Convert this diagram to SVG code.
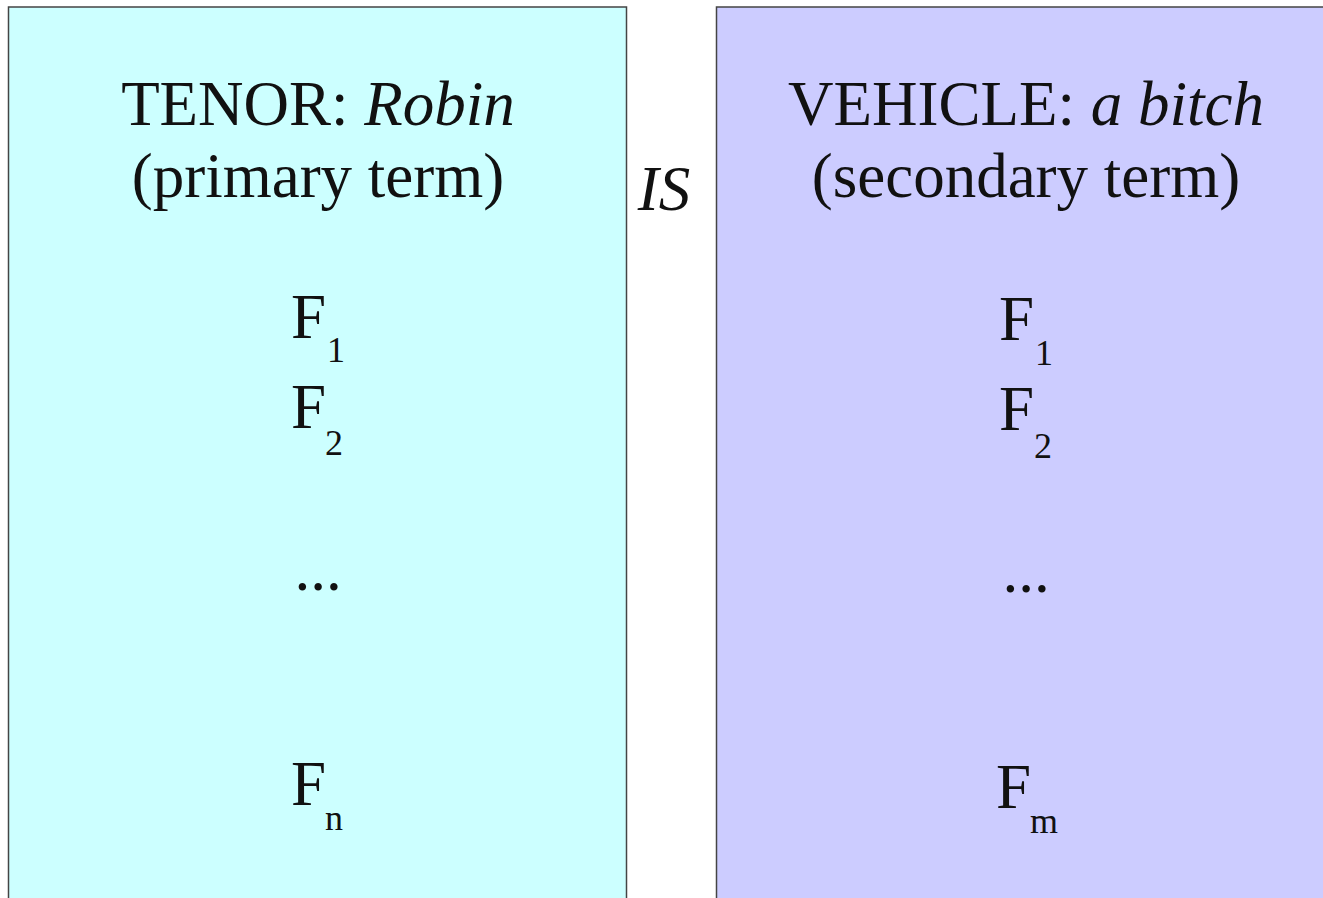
<svg xmlns="http://www.w3.org/2000/svg" width="1323" height="898" viewBox="0 0 1323 898">
<style>
text{font-family:"Liberation Serif","Times New Roman",serif;fill:#111}
.big{font-size:63px}
.sub{font-size:36px}
.it{font-style:italic}
.box{stroke:#444;stroke-width:1.5}
</style>
<rect width="1323" height="898" fill="#fff"/>
<g id="tenor">
<rect class="box" x="8.5" y="7" width="618" height="895" fill="#CCFFFF"/>
<text class="big" x="318" y="125" text-anchor="middle">TENOR: <tspan class="it">Robin</tspan></text>
<text class="big" x="318" y="197" text-anchor="middle">(primary term)</text>
<text class="big" x="291" y="338">F</text><text class="sub" x="327" y="362">1</text>
<text class="big" x="291" y="428">F</text><text class="sub" x="325" y="455">2</text>
<text class="big" x="318" y="590" text-anchor="middle">...</text>
<text class="big" x="291" y="805">F</text><text class="sub" x="325" y="830">n</text>
</g>
<g id="is">
<text class="big it" x="664" y="210" text-anchor="middle">IS</text>
</g>
<g id="vehicle">
<rect class="box" x="716.5" y="7" width="612" height="895" fill="#CCCCFF"/>
<text class="big" x="1026" y="125" text-anchor="middle">VEHICLE: <tspan class="it">a bitch</tspan></text>
<text class="big" x="1026" y="197" text-anchor="middle">(secondary term)</text>
<text class="big" x="999" y="340">F</text><text class="sub" x="1035" y="365">1</text>
<text class="big" x="999" y="430">F</text><text class="sub" x="1034" y="458">2</text>
<text class="big" x="1026" y="592" text-anchor="middle">...</text>
<text class="big" x="996" y="808">F</text><text class="sub" x="1030" y="833">m</text>
</g>
<g id="connectors"></g>
</svg>
